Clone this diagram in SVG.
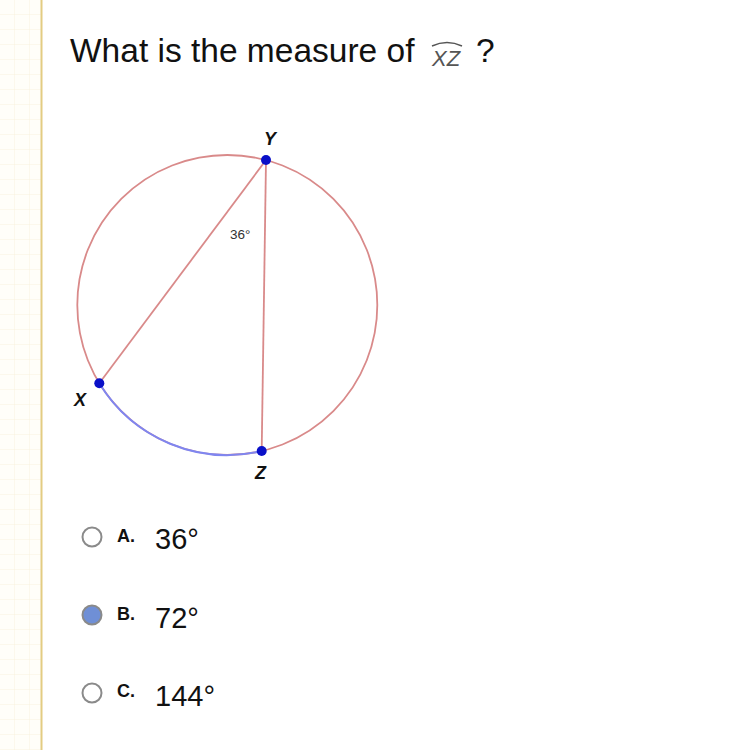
<svg xmlns="http://www.w3.org/2000/svg" width="744" height="750" viewBox="0 0 744 750">
<style>
.t{font-family:"Liberation Sans",Arial,sans-serif;fill:#111}
.lbl{font-family:"Liberation Sans",Arial,sans-serif;font-weight:bold;font-style:italic;font-size:18px;fill:#111}
.red{fill:none;stroke:#d98a8a;stroke-width:1.8}
.dot{fill:#0a10c8}
.radio{fill:#fff;stroke:#8a8a8a;stroke-width:2}
</style>
<defs>
<pattern id="grid" width="15" height="15" patternUnits="userSpaceOnUse">
<path d="M15 0V15M0 15H15" fill="none" stroke="#f8f2de" stroke-width="1"/>
</pattern>
</defs>
<rect width="744" height="750" fill="#fff"/>
<rect x="0" y="0" width="41" height="750" fill="#fffef9"/>
<rect x="0" y="0" width="41" height="750" fill="url(#grid)"/>
<line x1="41.5" y1="0" x2="41.5" y2="750" stroke="#e3cc82" stroke-width="2"/>

<g id="title">
<text class="t" x="70" y="62" font-size="33.5">What is the measure of</text>
<path d="M432 46 Q447 39 462 46" fill="none" stroke="#555" stroke-width="1.4"/>
<text x="432" y="66" font-family="Liberation Sans,Arial,sans-serif" font-size="22" font-style="italic" fill="#555">XZ</text>
<text class="t" x="476" y="62" font-size="33.5">?</text>
</g>

<g id="connectors">
<circle class="red" cx="227.3" cy="305" r="150"/>
<path d="M99.3 383.3 A150 150 0 0 0 261.7 451" fill="none" stroke="#7f86f0" stroke-width="2"/>
<line class="red" x1="266" y1="160" x2="99.3" y2="383.3"/>
<line class="red" x1="266" y1="160" x2="261.7" y2="451"/>
</g>

<g id="node-Y">
<circle class="dot" cx="266" cy="160" r="5"/>
<text class="lbl" x="264" y="145">Y</text>
</g>
<g id="node-X">
<circle class="dot" cx="99.3" cy="383.3" r="5"/>
<text class="lbl" x="74" y="406">X</text>
</g>
<g id="node-Z">
<circle class="dot" cx="261.7" cy="451" r="5"/>
<text class="lbl" x="255" y="479">Z</text>
</g>
<g id="angle-label">
<text x="230" y="239" font-family="Liberation Sans,Arial,sans-serif" font-size="13.5" fill="#333">36°</text>
</g>

<g id="option-A">
<circle class="radio" cx="92" cy="537" r="9.5"/>
<text class="t" x="117" y="542" font-size="18" font-weight="bold">A.</text>
<text class="t" x="155" y="549" font-size="29">36°</text>
</g>
<g id="option-B">
<circle cx="92" cy="615" r="9.5" fill="#6f8fd6" stroke="#8a8a8a" stroke-width="2"/>
<text class="t" x="117" y="620" font-size="18" font-weight="bold">B.</text>
<text class="t" x="155" y="628" font-size="29">72°</text>
</g>
<g id="option-C">
<circle class="radio" cx="92" cy="693" r="9.5"/>
<text class="t" x="117" y="697" font-size="18" font-weight="bold">C.</text>
<text class="t" x="155" y="706" font-size="29">144°</text>
</g>
</svg>
